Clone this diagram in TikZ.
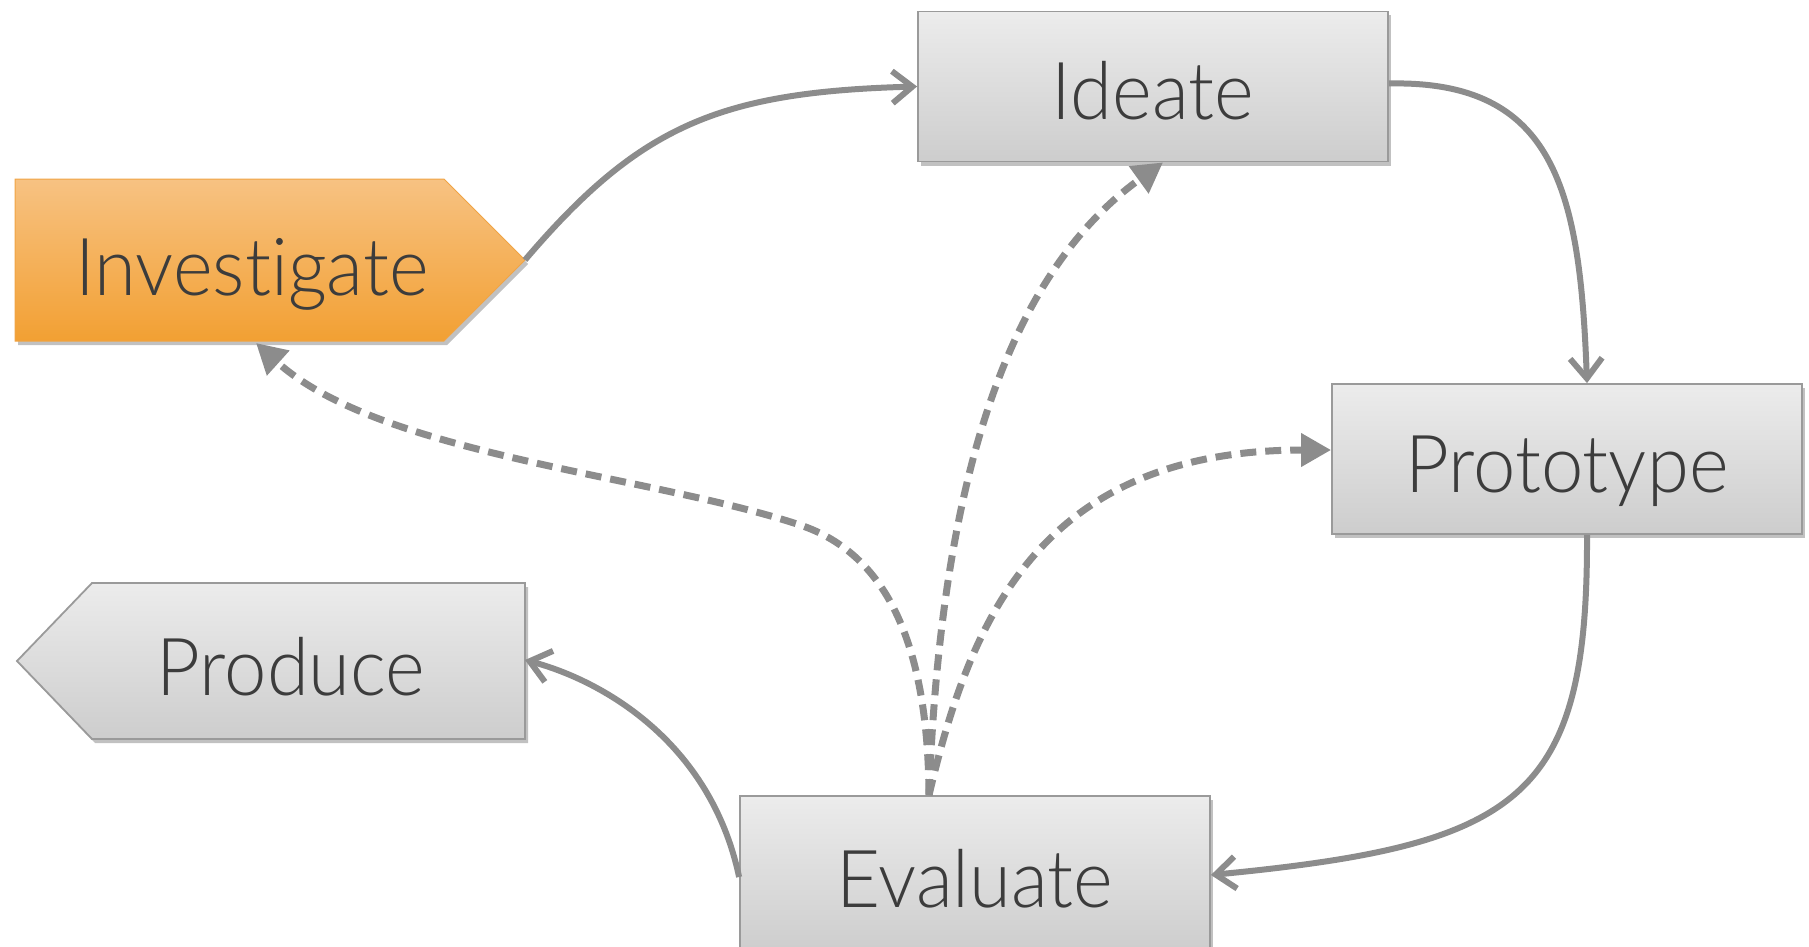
\documentclass[tikz,border=0pt]{standalone}
\usepackage{fontspec}
\setmainfont{Lato}[UprightFont={* Light},FakeStretch=0.95,Ligatures=NoCommon]
\usetikzlibrary{arrows.meta,shadows}
\definecolor{boxtop}{HTML}{ECECEC}
\definecolor{boxbot}{HTML}{CDCDCD}
\definecolor{boxline}{HTML}{9A9A9A}
\definecolor{orgtop}{HTML}{F7C282}
\definecolor{orgbot}{HTML}{F2A033}
\definecolor{orgline}{HTML}{F0A445}
\definecolor{linkc}{HTML}{8C8C8C}
\definecolor{txt}{HTML}{3C3C3C}
\begin{document}
\begin{tikzpicture}[x=1pt,y=-1pt,
  shade/.style={drop shadow={shadow xshift=3pt,shadow yshift=-4pt,opacity=0.35,fill=black!70}},
  stagebox/.style={shade,draw=boxline,line width=1.8pt,top color=boxtop,bottom color=boxbot,
    minimum width=470pt,minimum height=150pt,inner sep=0pt,
    text=txt,font=\fontsize{80}{90}\selectfont,text height=66pt,text depth=0pt},
  graybox/.style={shade,draw=boxline,line width=1.8pt,top color=boxtop,bottom color=boxbot},
  orangebox/.style={shade,draw=orgline,line width=1pt,top color=orgtop,bottom color=orgbot},
  stagelabel/.style={text=txt,font=\fontsize{80}{90}\selectfont,anchor=base,inner sep=0pt},
  flow/.style={draw=linkc,line width=6pt,-{Straight Barb[length=20pt,width=32pt]}},
  back/.style={draw=linkc,line width=7pt,dash pattern=on 16pt off 9pt,-{Triangle[length=30pt,width=32pt]}}
]
\useasboundingbox (0,0) rectangle (1809,947);

% pentagon shapes
\path[orangebox] (15,179) -- (444,179) -- (525,260) -- (444,341) -- (15,341) -- cycle;
\path[graybox] (17,661) -- (92,583) -- (525,583) -- (525,739) -- (92,739) -- cycle;
\node[stagelabel] (inv) at (252,295) {Investigate};
\node[stagelabel] (prod) at (291,695) {Produce};
\coordinate (invtip) at (525,260);
\coordinate (invb) at (256,343);
\coordinate (prodr) at (525,660);

% rectangles
\node[stagebox] (ide) at (1153,86.5) {Ideate};
\node[stagebox] (proto) at (1567,459) {Prototype};
\node[stagebox,minimum height=156pt] (eval) at (975,874) {Evaluate};
\coordinate (evtop) at ([xshift=-46pt]eval.north);

% solid flow
\draw[flow] (invtip) .. controls (640,125) and (720,92) .. (ide.west);
\draw[flow] ([yshift=3pt]ide.east) .. controls (1555,80) and (1580,190) .. ([xshift=20pt]proto.north);
\draw[flow] ([xshift=20pt]proto.south) .. controls (1588,800) and (1520,845) .. ([yshift=-1pt]eval.east);
\draw[flow] ([yshift=-3pt]eval.west) .. controls (710,740) and (600,680) .. (prodr);

% dashed feedback
\draw[back] (evtop) .. controls (928,650) and (890,555) .. (800,525) .. controls (650,475) and (380,455) .. (invb);
\draw[back] (evtop) .. controls (940,500) and (1000,280) .. ([xshift=10pt]ide.south);
\draw[back] (evtop) .. controls (970,620) and (1040,450) .. ([yshift=9pt]proto.west);
\end{tikzpicture}
\end{document}
